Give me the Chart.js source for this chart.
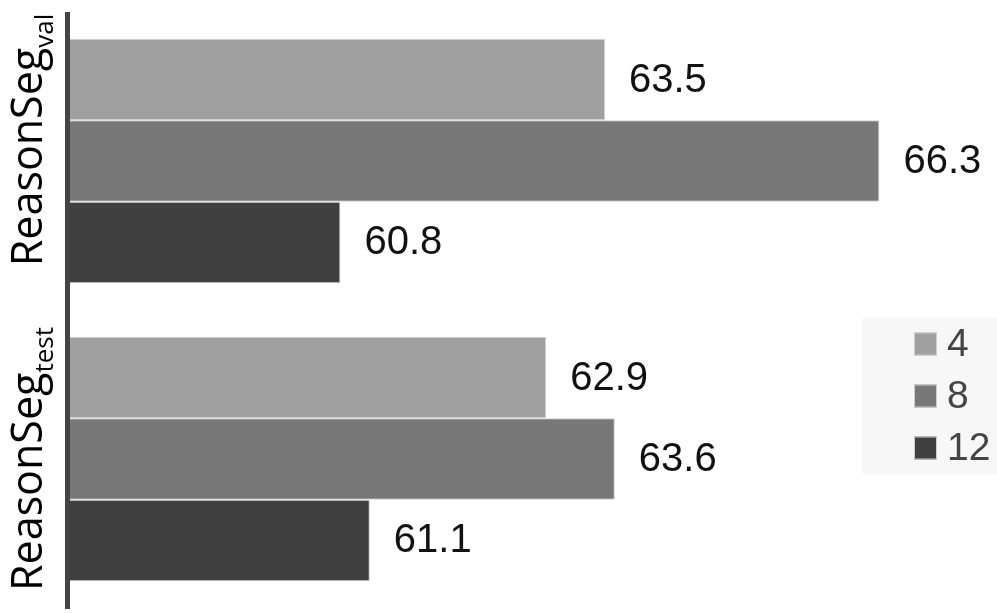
<!DOCTYPE html>
<html>
<head>
<meta charset="utf-8">
<script src="https://cdn.jsdelivr.net/npm/chart.js@4.4.0/dist/chart.umd.min.js"></script>
<style>
  html, body { margin: 0; padding: 0; background: #fff; }
  #wrap { width: 997px; height: 613px; }
</style>
</head>
<body>
<div id="wrap"><canvas id="myChart"></canvas></div>
<script>
// DATA
const labelBase = 'ReasonSeg';
const labelSubs = ['val', 'test'];
const seriesNames = ['4', '8', '12'];
const values4 = [63.5, 62.9];
const values8 = [66.3, 63.6];
const values12 = [60.8, 61.1];
const seriesColors = ['#a0a0a0', '#787878', '#404040'];
const X_MIN = 58;
const X_MAX = 67.5;

const ctx = document.getElementById('myChart');

// ------------------------------------------------------------------
// PLUGINS
const axisLine = {
  id: 'axisLine',
  afterDatasetsDraw(chart) {
    const { ctx, chartArea } = chart;
    ctx.save();
    ctx.strokeStyle = '#444';
    ctx.lineWidth = 5;
    ctx.beginPath();
    ctx.moveTo(chartArea.left + 1.5, chartArea.top);
    ctx.lineTo(chartArea.left + 1.5, chartArea.bottom + 1);
    ctx.stroke();
    ctx.restore();
  }
};

const valueLabels = {
  id: 'valueLabels',
  afterDatasetsDraw(chart) {
    const { ctx } = chart;
    ctx.save();
    ctx.font = '40px "Liberation Sans", Arial, sans-serif';
    ctx.fillStyle = '#111';
    ctx.textAlign = 'left';
    ctx.textBaseline = 'middle';
    chart.data.datasets.forEach((ds, di) => {
      chart.getDatasetMeta(di).data.forEach((bar, i) => {
        ctx.fillText(ds.data[i].toFixed(1), bar.x + 24, bar.y + 1);
      });
    });
    ctx.restore();
  }
};

// rotated category labels with subscript
const categoryLabels = {
  id: 'categoryLabels',
  afterDraw(chart) {
    const { ctx } = chart;
    const yScale = chart.scales.y;
    const shifts = [-21, 0];
    ctx.save();
    labelSubs.forEach((sub, i) => {
      const cy = yScale.getPixelForValue(i) + shifts[i];
      ctx.font = '43px "Open Sans", sans-serif';
      const w1 = ctx.measureText(labelBase).width;
      ctx.font = '26px "Open Sans", sans-serif';
      const w2 = ctx.measureText(sub).width;
      const total = w1 + w2;
      ctx.translate(42, cy);
      ctx.rotate(-Math.PI / 2);
      ctx.fillStyle = '#000';
      ctx.textBaseline = 'alphabetic';
      ctx.textAlign = 'left';
      ctx.font = '43px "Open Sans", sans-serif';
      ctx.fillText(labelBase, -total / 2, 0);
      ctx.font = '26px "Open Sans", sans-serif';
      ctx.fillText(sub, -total / 2 + w1, 11);
      ctx.setTransform(1, 0, 0, 1, 0, 0);
    });
    ctx.restore();
  }
};

const boxLegend = {
  id: 'boxLegend',
  afterDraw(chart) {
    const { ctx } = chart;
    const boxX = 862, boxY = 318, boxW = chart.width - 862, boxH = 156;
    ctx.save();
    ctx.fillStyle = '#f7f7f7';
    ctx.fillRect(boxX, boxY, boxW, boxH);
    ctx.font = '39px "Liberation Sans", Arial, sans-serif';
    ctx.textBaseline = 'middle';
    ctx.textAlign = 'left';
    chart.data.datasets.forEach((ds, i) => {
      const cy = 344 + i * 52;
      ctx.fillStyle = ds.backgroundColor;
      ctx.fillRect(914, cy - 11.5, 23, 23);
      ctx.strokeStyle = '#cfcfcf';
      ctx.lineWidth = 1;
      ctx.strokeRect(914.5, cy - 11, 22, 22);
      ctx.fillStyle = '#444';
      ctx.fillText(ds.label, 947, cy + 1);
    });
    ctx.restore();
  }
};

// ------------------------------------------------------------------
// CHART
const datasetValues = [values4, values8, values12];

const config = {
  type: 'bar',
  data: {
    labels: labelSubs.map(s => labelBase + s),
    datasets: seriesNames.map((name, i) => ({
      label: name,
      data: datasetValues[i],
      backgroundColor: seriesColors[i],
      borderColor: '#d2d2d2',
      borderWidth: 1,
      categoryPercentage: 0.82,
      barPercentage: 1,
    })),
  },
  options: {
    indexAxis: 'y',
    responsive: true,
    maintainAspectRatio: false,
    animation: false,
    layout: { padding: { left: 66, top: 12, bottom: 5, right: 0 } },
    scales: {
      x: { display: false, min: X_MIN, max: X_MAX },
      y: { display: false },
    },
    plugins: {
      legend: { display: false },
      tooltip: { enabled: false },
    },
  },
  plugins: [axisLine, valueLabels, categoryLabels, boxLegend],
};

const myChart = new Chart(ctx, config);
</script>
</body>
</html>
